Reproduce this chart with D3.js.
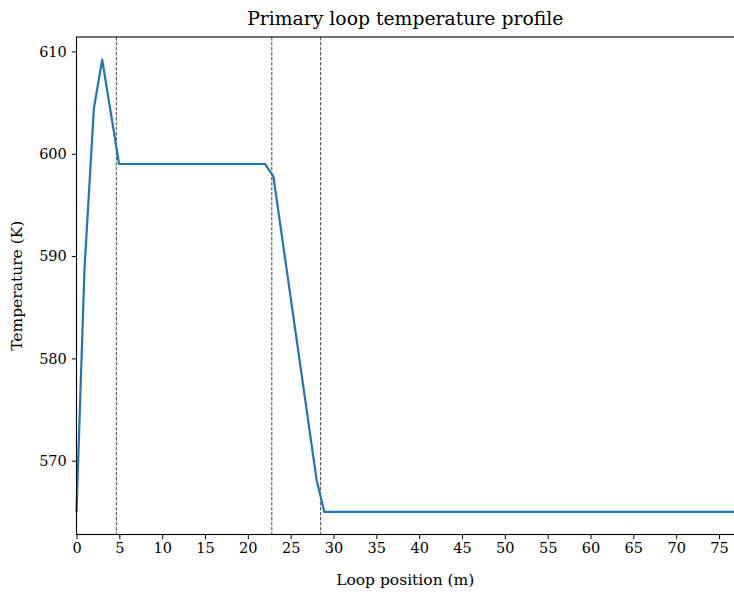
<!DOCTYPE html>
<html>
<head>
<meta charset="utf-8">
<script src="https://cdn.jsdelivr.net/npm/d3@7"></script>
<style>
  body { margin: 0; background: #fff; }
  text { font-family: "DejaVu Serif", "Liberation Serif", serif; fill: #000; }
</style>
</head>
<body>
<div id="chart"></div>
<script>
// loop position (m) and temperature (K)
const positions = [0, 0.93, 2.03, 3.0, 4.97, 22.0, 22.98, 28.03, 28.93, 76.75]
const temperatures = [565, 588.7, 604.45, 609.2, 599.0, 599.0, 597.8, 568.1, 565.0, 565.0]
const boundaries = [4.65, 22.8, 28.5]
const xTicks = [0, 5, 10, 15, 20, 25, 30, 35, 40, 45, 50, 55, 60, 65, 70, 75]
const yTicks = [570, 580, 590, 600, 610]

const margin = {top: 37, right: 0, bottom: 60.5, left: 76.5}
const width = 734 - margin.left - margin.right
const height = 595 - margin.top - margin.bottom

const x = d3.scaleLinear().domain([0, 76.75]).range([0, width])
const y = d3.scaleLinear().domain([562.79, 611.41]).range([height, 0])

const svg = d3.select('#chart')
  .append('svg')
  .attr('width', 734)
  .attr('height', 595)
  .append('g')
  .attr('transform', 'translate(' + margin.left + ',' + margin.top + ')')

const data = positions.map((p, i) => ({x: p, y: temperatures[i]}))

svg.selectAll('.boundary')
  .data(boundaries)
  .enter()
  .append('line')
  .attr('class', 'boundary')
  .attr('x1', d => x(d)).attr('x2', d => x(d))
  .attr('y1', 0).attr('y2', height)
  .attr('stroke', '#444')
  .attr('stroke-width', 1)
  .attr('stroke-dasharray', '3.5,1.5')

svg.append('path')
  .datum(data)
  .attr('fill', 'none')
  .attr('stroke', '#1f77b4')
  .attr('stroke-width', 2.2)
  .attr('stroke-linejoin', 'round')
  .attr('d', d3.line().x(d => x(d.x)).y(d => y(d.y)))

const xAxis = d3.axisBottom(x).tickValues(xTicks).tickFormat(d3.format('d')).tickSizeOuter(0).tickSize(4.7).tickPadding(4)
const yAxis = d3.axisLeft(y).tickValues(yTicks).tickFormat(d3.format('d')).tickSizeOuter(0).tickSize(4.7).tickPadding(5)

const gx = svg.append('g').attr('transform', 'translate(0,' + height + ')').call(xAxis)
const gy = svg.append('g').call(yAxis)
;[gx, gy].forEach(g => {
  g.select('.domain').remove()
  g.selectAll('line').attr('stroke', '#000').attr('stroke-width', 1)
  g.selectAll('text').style('font-size', '14.5px').style('font-family', '"DejaVu Serif", serif')
})

// spines
svg.append('rect')
  .attr('x', 0).attr('y', 0)
  .attr('width', width + 2).attr('height', height)
  .attr('fill', 'none')
  .attr('stroke', '#000')
  .attr('stroke-width', 1.1)

svg.append('text')
  .attr('x', width / 2)
  .attr('y', -12)
  .attr('text-anchor', 'middle')
  .style('font-size', '18.8px')
  .text('Primary loop temperature profile')

svg.append('text')
  .attr('x', width / 2)
  .attr('y', height + 50)
  .attr('text-anchor', 'middle')
  .style('font-size', '15.5px')
  .text('Loop position (m)')

svg.append('text')
  .attr('transform', 'translate(' + (-55) + ',' + (height / 2) + ') rotate(-90)')
  .attr('text-anchor', 'middle')
  .style('font-size', '15.5px')
  .text('Temperature (K)')
</script>
</body>
</html>
